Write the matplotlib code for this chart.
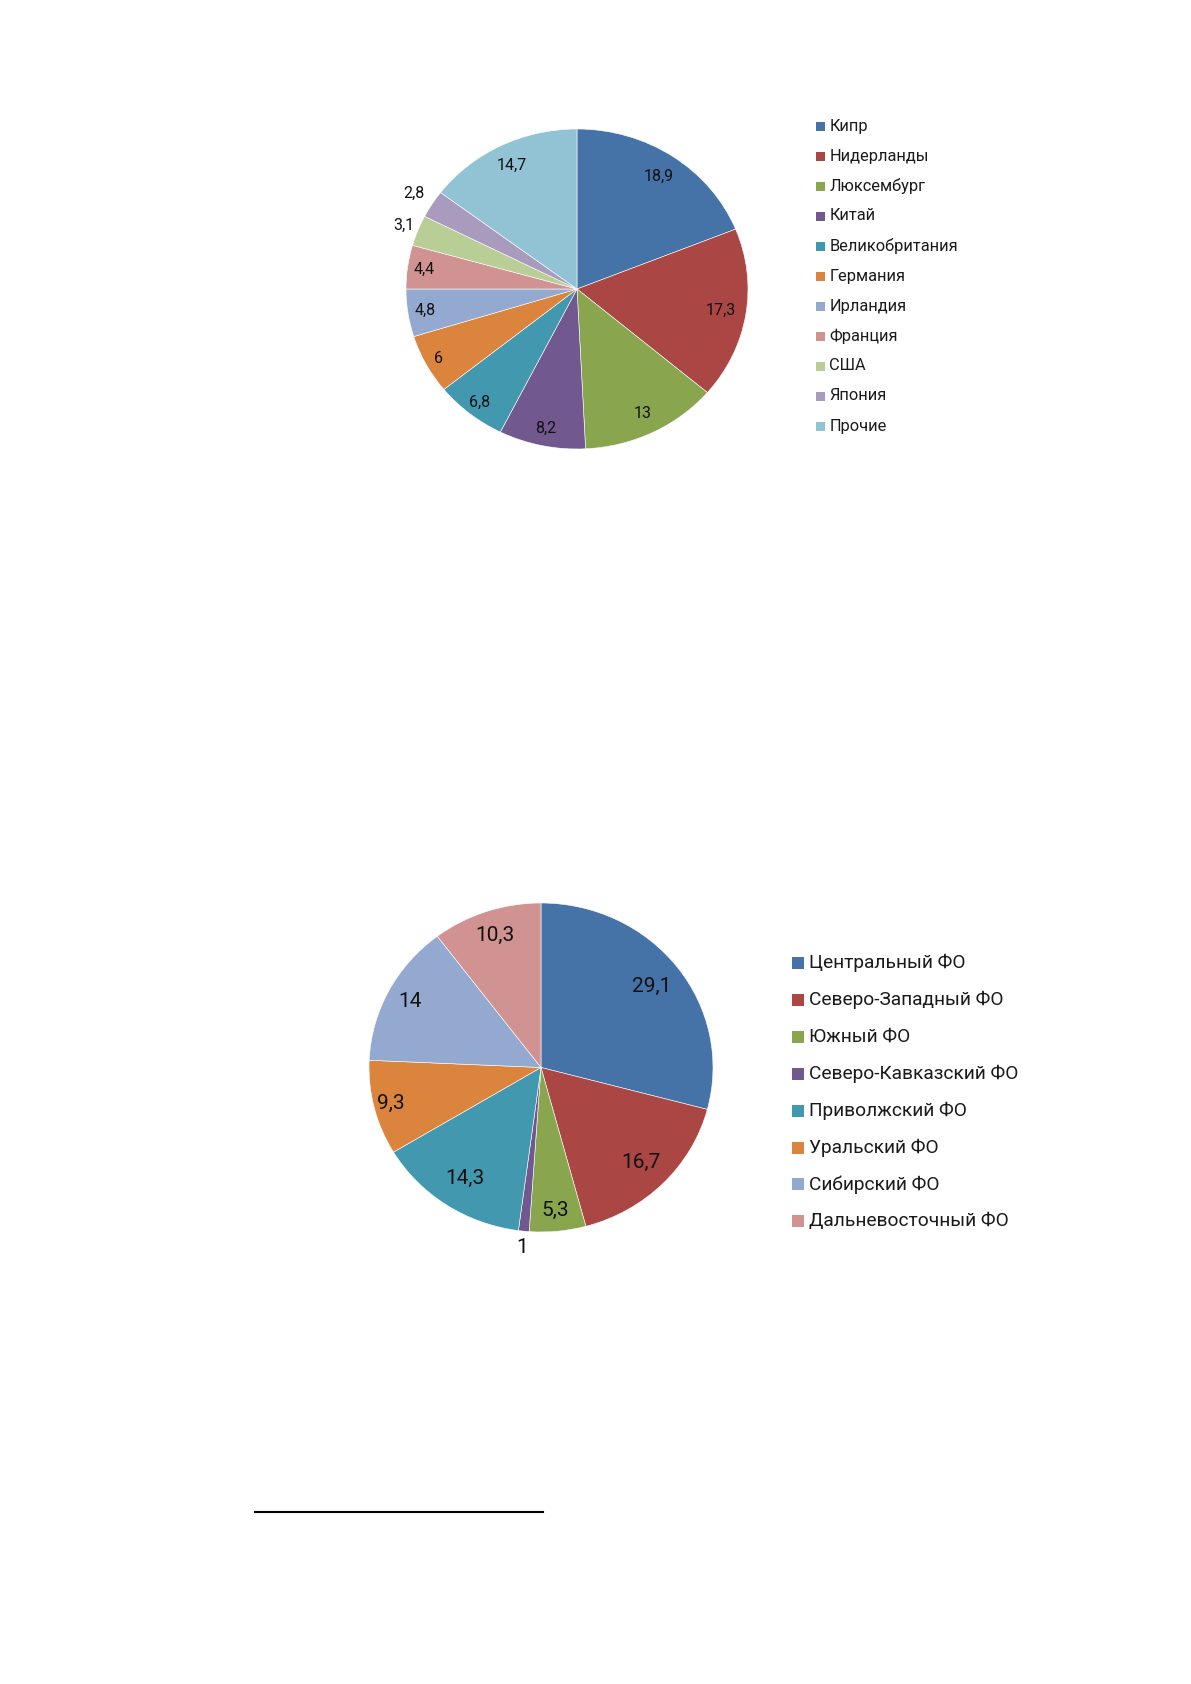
import numpy as np
import matplotlib as mpl
mpl.use("Agg")
import matplotlib.pyplot as plt
from matplotlib.patches import Rectangle
from matplotlib.lines import Line2D

plt.rcParams["font.family"] = ["Roboto", "DejaVu Sans"]

# --- data ---
countries = ["Кипр", "Нидерланды", "Люксембург", "Китай", "Великобритания",
             "Германия", "Ирландия", "Франция", "США", "Япония", "Прочие"]
country_share = [18.9, 17.3, 13, 8.2, 6.8, 6, 4.8, 4.4, 3.1, 2.8, 14.7]

districts = ["Центральный ФО", "Северо-Западный ФО", "Южный ФО", "Северо-Кавказский ФО",
             "Приволжский ФО", "Уральский ФО", "Сибирский ФО", "Дальневосточный ФО"]
district_share = [29.1, 16.7, 5.3, 1, 14.3, 9.3, 14, 10.3]

# --- styles ---
colors1 = ["#4572A7", "#AA4643", "#89A54E", "#71588F", "#4198AF", "#DB843D",
           "#93A9CF", "#D19392", "#B9CD96", "#A99BBD", "#92C3D4"]
colors2 = colors1[:8]
# radial position of each data label (fraction of radius), Excel "best fit" look
lab_r1 = [0.85, 0.85, 0.87, 0.89, 0.91, 0.92, 0.90, 0.90, 1.09, 1.125, 0.86]
lab_r2 = [0.81, 0.82, 0.87, 1.10, 0.81, 0.90, 0.86, 0.85]

W, H = 1191, 1684
fig = plt.figure(figsize=(W / 100, H / 100), dpi=100)
fig.patch.set_facecolor("white")


def fmt(v):
    s = ("%g" % v).replace(".", ",")
    return s


def px_axes(left, top, right, bottom):
    return fig.add_axes([left / W, 1 - bottom / H, (right - left) / W, (bottom - top) / H])


def draw_pie(ax, values, colors, radii, fsize):
    wedges, _ = ax.pie(values, colors=colors, startangle=90, counterclock=False,
                       wedgeprops=dict(edgecolor="white", linewidth=0.4), frame=False)
    ax.set_aspect("auto")
    ax.set_xlim(-1, 1)
    ax.set_ylim(-1, 1)
    ax.axis("off")
    for w, v, r in zip(wedges, values, radii):
        ang = np.deg2rad((w.theta1 + w.theta2) / 2)
        ax.text(r * np.cos(ang), r * np.sin(ang), fmt(v), ha="center", va="center",
                fontsize=fsize, color="#111111", clip_on=False)


def draw_legend(labels, colors, x_mark, y_first, step, msize, fsize):
    for i, (lab, c) in enumerate(zip(labels, colors)):
        y = y_first + i * step
        fig.add_artist(Rectangle(((x_mark - msize / 2) / W, 1 - (y + msize / 2) / H),
                                 msize / W, msize / H, transform=fig.transFigure,
                                 facecolor=c, edgecolor="none"))
        fig.text((x_mark + msize / 2 + 5) / W, 1 - y / H, lab, ha="left", va="center",
                 fontsize=fsize, color="#1a1a1a")


# chart 1: countries
ax1 = px_axes(406, 129, 748, 449)
draw_pie(ax1, country_share, colors1, lab_r1, 11.5)
draw_legend(countries, colors1, 820, 126, 30, 9, 11.8)

# chart 2: federal districts
ax2 = px_axes(369, 903, 713, 1232)
draw_pie(ax2, district_share, colors2, lab_r2, 15)
draw_legend(districts, colors2, 798, 963, 36.9, 12, 13.8)

# footnote separator
fig.add_artist(Line2D([255 / W, 543 / W], [1 - 1512 / H, 1 - 1512 / H],
                      transform=fig.transFigure, color="black", lw=1.5))

fig.savefig("out.png", dpi=100)
